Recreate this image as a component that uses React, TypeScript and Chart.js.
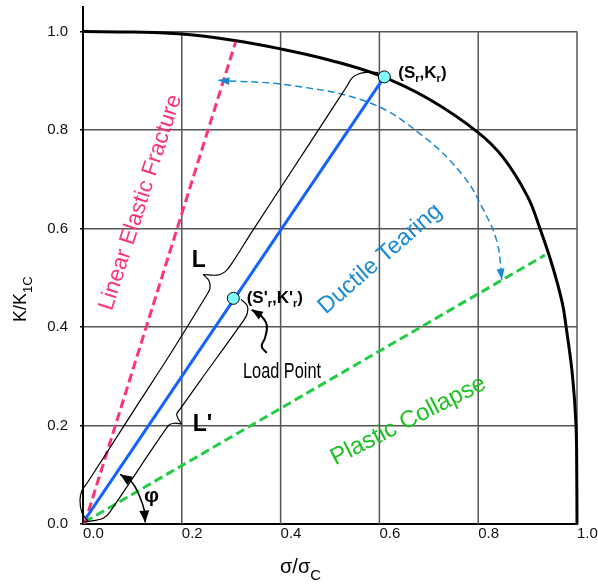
import React, { useEffect, useRef } from 'react';
import { Chart, registerables } from 'chart.js';

Chart.register(...registerables);

const FONT = "'Liberation Sans', Arial, Helvetica, sans-serif";
const NARROW = "'Liberation Sans Narrow', 'Liberation Sans', Arial, sans-serif";

// ---- axes ----
const xTickValues = [0, 0.2, 0.4, 0.6, 0.8, 1.0];
const yTickValues = [0, 0.2, 0.4, 0.6, 0.8, 1.0];
const gridXValues = [0.2, 0.4, 0.6, 0.8, 1.0];
const xRange = [0, 1.0];
const yRange = [0, 1.05];
const xTitle = ['σ/σ', 'C'];
const yTitle = ['K/K', '1C'];

// ---- failure assessment curve ----
const fadX = [0, 0.1, 0.2, 0.3, 0.4, 0.5, 0.6, 0.7, 0.8, 0.85, 0.9, 0.925, 0.95, 0.97, 0.978, 0.991, 0.998, 0.9995, 1.0];
const fadY = [1.0, 0.999, 0.995, 0.983, 0.965, 0.942, 0.911, 0.863, 0.795, 0.745, 0.665, 0.6, 0.525, 0.45, 0.4, 0.3, 0.2, 0.1, 0.0];

// ---- straight lines ----
const lefX = [0.003, 0.309];
const lefY = [0.0, 0.979];
const plcX = [0.003, 0.935];
const plcY = [0.004, 0.546];
const loadX = [0.006, 0.61];
const loadY = [0.012, 0.908];

// ---- points ----
const markX = [0.61, 0.3043];
const markY = [0.908, 0.4583];

// ---- ductile tearing arc ----
const tearX = [0.274, 0.419, 0.581, 0.688, 0.769, 0.81, 0.838, 0.848];
const tearY = [0.901, 0.891, 0.855, 0.788, 0.708, 0.639, 0.573, 0.496];

// ---- brace L ----
const braceLaX = [0.0101, -0.002, -0.0061, -0.002, 0.0081, 0.1154, 0.1761, 0.2504, 0.2571, 0.2551, 0.2435];
const braceLaY = [0.006, 0.0222, 0.0484, 0.0685, 0.0827, 0.25, 0.3442, 0.4651, 0.4784, 0.494, 0.5067];
const braceLbX = [0.2435, 0.2706, 0.2874, 0.301, 0.3415, 0.4595, 0.5338, 0.5439, 0.5573, 0.5743, 0.5978];
const braceLbY = [0.5067, 0.5054, 0.5121, 0.5288, 0.5927, 0.7742, 0.8885, 0.9052, 0.9139, 0.9173, 0.9167];

// ---- brace L' ----
const bracePaX = [0.002, 0.0209, 0.0411, 0.0547, 0.1727, 0.1842, 0.1998];
const bracePaY = [0.004, 0.0067, 0.0115, 0.0248, 0.1996, 0.2046, 0.203];
const bracePbX = [0.1998, 0.1929, 0.1897, 0.1964, 0.2368, 0.3259, 0.3326, 0.3326, 0.3198];
const bracePbY = [0.203, 0.2131, 0.2232, 0.2333, 0.2903, 0.4147, 0.428, 0.4435, 0.4562];

// ---- phi arc ----
const phiX = [0.075, 0.099, 0.115, 0.124, 0.126];
const phiY = [0.101, 0.085, 0.055, 0.028, 0.003];

// ---- load point pointer ----
const ptrX = [0.3415, 0.3583, 0.3719, 0.3684, 0.3617, 0.3719];
const ptrY = [0.4349, 0.4248, 0.4046, 0.3776, 0.3609, 0.3474];

// ---- texts ----
const regionTexts = ['Linear Elastic Fracture', 'Ductile Tearing', 'Plastic Collapse'];
const pointTextA = [['(S', 0], ['r', 1], [',K', 0], ['r', 1], [')', 0]];
const pointTextB = [["(S'", 0], ['r', 1], [",K'", 0], ['r', 1], [')', 0]];
const letterTexts = ['L', "L'", 'φ', 'Load Point'];

const PINK = '#ff3377';
const GREEN = '#22cc44';
const GREEN_T = '#1fc020';
const TEAR = '#1a8ad4';
const BLUE = '#1463ff';
const CYAN = '#80ffff';
const GRID = '#555555';

const zip = (xs: number[], ys: number[]) => xs.map((v, i) => ({ x: v, y: ys[i] }));

function drawHead(ctx: CanvasRenderingContext2D, tx: number, ty: number, rx: number, ry: number, len: number, half: number, color: string) {
  let dx = tx - rx;
  let dy = ty - ry;
  const d = Math.hypot(dx, dy) || 1;
  dx /= d;
  dy /= d;
  const bx = tx - dx * len;
  const by = ty - dy * len;
  ctx.beginPath();
  ctx.moveTo(tx, ty);
  ctx.lineTo(bx - dy * half, by + dx * half);
  ctx.lineTo(bx + dy * half, by - dx * half);
  ctx.closePath();
  ctx.fillStyle = color;
  ctx.fill();
}

function drawParts(ctx: CanvasRenderingContext2D, parts: any[], x: number, y: number, main: string, sub: string, subOff: number, color: string) {
  let cx = x;
  ctx.fillStyle = color;
  ctx.textAlign = 'left';
  ctx.textBaseline = 'alphabetic';
  parts.forEach(([t, s]) => {
    ctx.font = s ? sub : main;
    ctx.fillText(t, cx, y + (s ? subOff : 0));
    cx += ctx.measureText(t).width;
  });
}

const arrowSpecs = [
  { id: 'tear', at: 'start', len: 11, half: 4, color: TEAR },
  { id: 'tear', at: 'end', len: 11, half: 4, color: TEAR },
  { id: 'phi', at: 'start', len: 12, half: 5, color: '#000' },
  { id: 'phi', at: 'end', len: 12, half: 5, color: '#000' },
  { id: 'ptr', at: 'start', len: 11, half: 4.5, color: '#000' },
];

const overlayPlugin = {
  id: 'overlay',
  afterDatasetsDraw(chart: any) {
    const { ctx, scales } = chart;
    const X = (v: number) => scales.x.getPixelForValue(v);
    const Y = (v: number) => scales.y.getPixelForValue(v);
    ctx.save();
    // arrowheads
    arrowSpecs.forEach((spec) => {
      const idx = chart.data.datasets.findIndex((d: any) => d.id === spec.id);
      if (idx < 0) return;
      const pts = chart.getDatasetMeta(idx).data;
      let tip: any, ref: any;
      if (spec.at === 'start') {
        tip = pts[0];
        ref = tip.cp2x != null && Math.hypot(tip.cp2x - tip.x, tip.cp2y - tip.y) > 0.5 ? { x: tip.cp2x, y: tip.cp2y } : pts[1];
      } else {
        tip = pts[pts.length - 1];
        ref = tip.cp1x != null && Math.hypot(tip.cp1x - tip.x, tip.cp1y - tip.y) > 0.5 ? { x: tip.cp1x, y: tip.cp1y } : pts[pts.length - 2];
      }
      drawHead(ctx, tip.x, tip.y, ref.x, ref.y, spec.len, spec.half, spec.color);
    });

    // rotated region labels
    const rot = (text: string, x: number, y: number, ang: number, size: number, color: string) => {
      ctx.save();
      ctx.translate(X(x), Y(y));
      ctx.rotate((ang * Math.PI) / 180);
      ctx.font = `${size}px ${FONT}`;
      ctx.fillStyle = color;
      ctx.textAlign = 'left';
      ctx.textBaseline = 'alphabetic';
      ctx.fillText(text, 0, 0);
      ctx.restore();
    };
    rot(regionTexts[0], 0.0581, 0.4315, -72, 22.5, PINK);
    rot(regionTexts[1], 0.4913, 0.4248, -41, 23.5, TEAR);
    rot(regionTexts[2], 0.5108, 0.119, -27, 24, GREEN_T);

    // point labels
    drawParts(ctx, pointTextA, X(0.6383), Y(0.9052), `bold 17px ${FONT}`, `bold 11px ${FONT}`, 4, '#000');
    drawParts(ctx, pointTextB, X(0.3314), Y(0.4482), `bold 17px ${FONT}`, `bold 11px ${FONT}`, 4, '#000');

    // letters
    ctx.fillStyle = '#000';
    ctx.textAlign = 'left';
    ctx.textBaseline = 'alphabetic';
    ctx.font = `bold 23px ${FONT}`;
    ctx.fillText(letterTexts[0], X(0.22), Y(0.5222));
    ctx.fillText(letterTexts[1], X(0.2221), Y(0.1895));
    ctx.font = `bold 21px ${FONT}`;
    ctx.fillText(letterTexts[2], X(0.1235), Y(0.0444));

    // Load Point (condensed)
    ctx.font = `22px ${NARROW}`;
    const w = ctx.measureText(letterTexts[3]).width;
    ctx.save();
    ctx.translate(X(0.3239), Y(0.2964));
    ctx.scale(78 / w, 1);
    ctx.fillText(letterTexts[3], 0, 0);
    ctx.restore();

    ctx.restore();
  },
  afterDraw(chart: any) {
    const { ctx, chartArea } = chart;
    ctx.save();
    ctx.fillStyle = '#000';
    // x title
    drawParts(ctx, [[xTitle[0], 0], [xTitle[1], 1]], chartArea.left + 197, chartArea.bottom + 49, `20px ${FONT}`, `15px ${FONT}`, 7, '#000');
    // y title (rotated)
    ctx.save();
    ctx.translate(26, chartArea.bottom - 202);
    ctx.rotate(-Math.PI / 2);
    drawParts(ctx, [[yTitle[0], 0], [yTitle[1], 1]], 0, 0, `18px ${FONT}`, `13px ${FONT}`, 6, '#000');
    ctx.restore();
    ctx.restore();
  },
};

export default function App() {
  const ref = useRef<HTMLCanvasElement | null>(null);
  useEffect(() => {
    document.body.style.margin = '0';
    if (!ref.current) return;
    const line = (id: string, xs: number[], ys: number[], color: string, width: number, order: number, extra: any = {}) => ({
      id,
      data: zip(xs, ys),
      borderColor: color,
      backgroundColor: color,
      borderWidth: width,
      pointRadius: 0,
      fill: false,
      tension: 0,
      order,
      clip: false,
      ...extra,
    });
    const datasets: any[] = [
      ...gridXValues.map((t, i) =>
        line('grid' + i, [t, t], [yTickValues[0], yTickValues[yTickValues.length - 1]], GRID, 1.5, 100)
      ),
      line('fad', fadX, fadY, '#000', 3, 20, { tension: 0.4 }),
      line('lef', lefX, lefY, PINK, 3, 19, { borderDash: [9, 4.5] }),
      line('plc', plcX, plcY, GREEN, 3, 19, { borderDash: [9, 4.5] }),
      line('tear', tearX, tearY, TEAR, 1.5, 18, { borderDash: [7, 4], tension: 0.4 }),
      line('bLa', braceLaX, braceLaY, '#000', 1.2, 17, { tension: 0.3 }),
      line('bLb', braceLbX, braceLbY, '#000', 1.2, 17, { tension: 0.3 }),
      line('bPa', bracePaX, bracePaY, '#000', 1.2, 17, { tension: 0.3 }),
      line('bPb', bracePbX, bracePbY, '#000', 1.2, 17, { tension: 0.3 }),
      line('load', loadX, loadY, BLUE, 3, 10),
      line('phi', phiX, phiY, '#000', 1.5, 9, { tension: 0.4 }),
      line('ptr', ptrX, ptrY, '#000', 2, 9, { tension: 0.4 }),
      {
        id: 'marks',
        data: zip(markX, markY),
        showLine: false,
        pointRadius: 6,
        pointBackgroundColor: CYAN,
        pointBorderColor: '#000',
        pointBorderWidth: 1,
        order: 0,
        clip: false,
      },
    ];
    const chart = new Chart(ref.current, {
      type: 'line',
      data: { datasets },
      options: {
        responsive: false,
        animation: false,
        devicePixelRatio: 1,
        events: [],
        layout: { padding: { top: 3, right: 21, left: 0, bottom: 0 } },
        plugins: { legend: { display: false }, tooltip: { enabled: false }, title: { display: false } },
        scales: {
          x: {
            type: 'linear',
            min: xRange[0],
            max: xRange[1],
            afterBuildTicks: (s: any) => {
              s.ticks = xTickValues.map((v) => ({ value: v }));
            },
            afterFit: (s: any) => {
              s.height = 61;
              s.paddingLeft = 0;
              s.paddingRight = 0;
            },
            grid: { display: false, drawTicks: false },
            border: { display: true, color: '#000', width: 2 },
            ticks: {
              align: 'start',
              padding: 1,
              color: '#111',
              font: { family: FONT, size: 15 },
              maxRotation: 0,
              autoSkip: false,
              callback: (v: any) => Number(v).toFixed(1),
            },
          },
          y: {
            type: 'linear',
            min: yRange[0],
            max: yRange[1],
            afterBuildTicks: (s: any) => {
              s.ticks = yTickValues.map((v) => ({ value: v }));
            },
            afterFit: (s: any) => {
              s.width = 83;
              s.paddingTop = 0;
              s.paddingBottom = 0;
            },
            grid: { color: GRID, lineWidth: 1.5, tickLength: 3, tickColor: '#000', tickWidth: 1.5 },
            border: { display: true, color: '#000', width: 2 },
            ticks: {
              padding: 12,
              color: '#111',
              font: { family: FONT, size: 15 },
              autoSkip: false,
              callback: (v: any) => Number(v).toFixed(1),
            },
          },
        },
      } as any,
      plugins: [overlayPlugin],
    });
    return () => chart.destroy();
  }, []);
  return (
    <div style={{ width: 598, height: 585 }}>
      <canvas ref={ref} width={598} height={585} style={{ display: 'block' }} />
    </div>
  );
}
